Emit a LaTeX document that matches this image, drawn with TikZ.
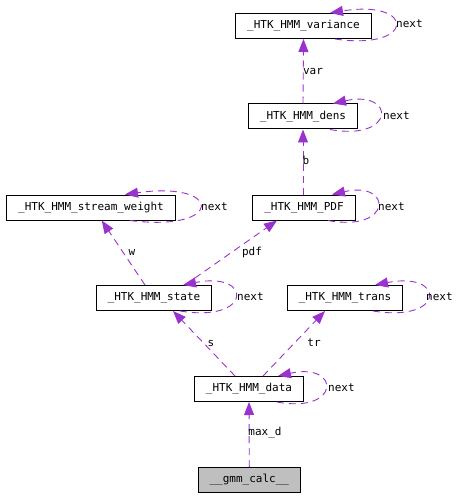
\documentclass[tikz,border=0pt]{standalone}
\usepackage{fontspec}
\setmainfont{DejaVu Sans Mono}
\usetikzlibrary{arrows.meta}
\definecolor{edgecol}{HTML}{9A32CD}
\definecolor{mainfill}{HTML}{BFBFBF}
\tikzset{
  cls/.style={draw=black, line width=1pt, fill=white, minimum height=25pt, inner xsep=11.5pt, inner ysep=0pt, font=\fontsize{11}{13}\selectfont, anchor=center},
  edge/.style={draw=edgecol, line width=0.9pt, dash pattern=on 7pt off 5pt, -{Triangle[length=13pt,width=10pt,fill=edgecol]}},
  lbl/.style={font=\fontsize{11}{13}\selectfont, inner sep=0pt, text=black},
}
\begin{document}
\begin{tikzpicture}[x=1pt,y=-1pt]
\useasboundingbox (0,0) rectangle (459,497);
% nodes
\node[cls] (var)   at (303.5,26)  {\_HTK\_HMM\_variance};
\node[cls] (dens)  at (303,116.5) {\_HTK\_HMM\_dens};
\node[cls] (pdf)   at (304,207.5) {\_HTK\_HMM\_PDF};
\node[cls] (sw)    at (91,207.5)  {\_HTK\_HMM\_stream\_weight};
\node[cls] (state) at (154,298)   {\_HTK\_HMM\_state};
\node[cls] (trans) at (345,298)   {\_HTK\_HMM\_trans};
\node[cls] (data)  at (249,389)   {\_HTK\_HMM\_data};
\node[cls, fill=mainfill] (gmm) at (249.3,480) {\_\_gmm\_calc\_\_};
% self loops
\draw[edge] ([xshift=31.5]var.south) .. controls +(81,12) and +(86,-14) .. ([xshift=26.5]var.north);
\node[lbl, anchor=west] (nvar) at (396,24) {next};
\draw[edge] ([xshift=27]dens.south) .. controls +(66,12) and +(63,-14) .. ([xshift=30]dens.north);
\node[lbl, anchor=west] (ndens) at (383,116) {next};
\draw[edge] ([xshift=24]pdf.south) .. controls +(65,12) and +(61,-14) .. ([xshift=28]pdf.north);
\node[lbl, anchor=west] (npdf) at (378,207) {next};
\draw[edge] ([xshift=39]sw.south) .. controls +(94,12) and +(99,-14) .. ([xshift=34]sw.north);
\node[lbl, anchor=west] (nsw) at (201,207) {next};
\draw[edge] ([xshift=26]state.south) .. controls +(73,12) and +(70,-14) .. ([xshift=29]state.north);
\node[lbl, anchor=west] (nstate) at (237,297) {next};
\draw[edge] ([xshift=28]trans.south) .. controls +(73,12) and +(71,-14) .. ([xshift=30]trans.north);
\node[lbl, anchor=west] (ntrans) at (426,297) {next};
\draw[edge] ([xshift=28]data.south) .. controls +(64,12) and +(63,-14) .. ([xshift=29]data.north);
\node[lbl, anchor=west] (ndata) at (328,388) {next};
% edges
\draw[edge] (dens.north) -- (var.south);
\node[lbl] (lvar) at (313,71) {var};
\draw[edge] ([xshift=-1]pdf.north) -- (dens.south);
\node[lbl] (lb) at (306,160) {b};
\draw[edge] ([xshift=-9]state.north) -- ([xshift=10.7]sw.south);
\node[lbl] (lw) at (132,252) {w};
\draw[edge] ([xshift=31]state.north) -- ([xshift=-27]pdf.south);
\node[lbl] (lpdf) at (252,252) {pdf};
\draw[edge] ([xshift=-14]data.north) -- ([xshift=19]state.south);
\node[lbl] (ls) at (211,343) {s};
\draw[edge] ([xshift=14]data.north) -- ([xshift=-20]trans.south);
\node[lbl] (ltr) at (314,343) {tr};
\draw[edge] (gmm.north) -- (data.south);
\node[lbl] (lmax) at (265,433) {max\_d};
\end{tikzpicture}
\end{document}
